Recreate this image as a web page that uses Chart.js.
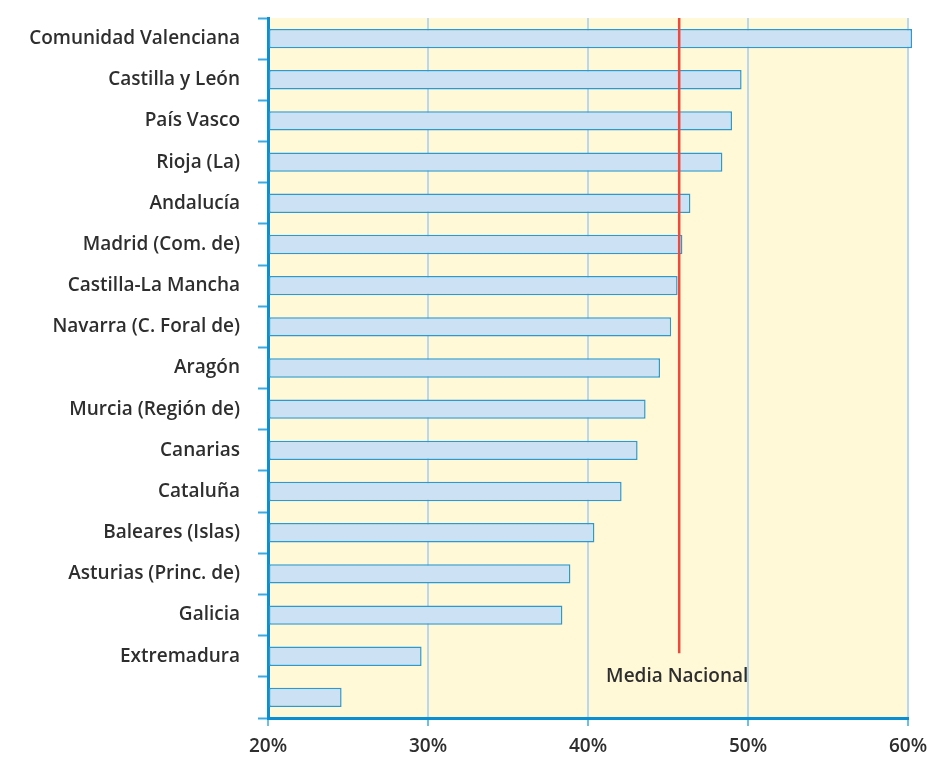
<!DOCTYPE html>
<html>
<head>
<meta charset="utf-8">
<script src="https://cdn.jsdelivr.net/npm/chart.js@4"></script>
<style>
  body { margin: 0; background: #fff; }
</style>
</head>
<body>
<canvas id="grafico" width="928" height="759"></canvas>
<script>
// Comunidades autónomas (la última sin etiqueta)
const comunidades = [
  "Comunidad Valenciana", "Castilla y León", "País Vasco", "Rioja (La)",
  "Andalucía", "Madrid (Com. de)", "Castilla-La Mancha", "Navarra (C. Foral de)",
  "Aragón", "Murcia (Región de)", "Canarias", "Cataluña", "Baleares (Islas)",
  "Asturias (Princ. de)", "Galicia", "Extremadura", ""
];
const porcentajes = [60.25, 49.6, 49.0, 48.4, 46.4, 45.9, 45.6, 45.2, 44.5, 43.6, 43.1, 42.1, 40.4, 38.9, 38.4, 29.6, 24.6];
const mediaNacional = 45.7;
const mediaTexto = "Media Nacional";
const ticksX = [20, 30, 40, 50, 60];

const fuente = "'Open Sans', 'DejaVu Sans', sans-serif";

// Fondo amarillo del área del gráfico + línea de la media
const fondoYMedia = {
  id: "fondoYMedia",
  beforeDraw(chart) {
    const { ctx, chartArea } = chart;
    ctx.save();
    ctx.fillStyle = "#fff9d8";
    ctx.fillRect(chartArea.left, chartArea.top, chartArea.right - chartArea.left, chartArea.bottom - chartArea.top);
    ctx.restore();
  },
  afterDatasetsDraw(chart) {
    const { ctx, chartArea, scales } = chart;
    const x = scales.x.getPixelForValue(mediaNacional);
    const yFin = scales.y.getPixelForValue(15) - 3;
    ctx.save();
    ctx.strokeStyle = "#f0483a";
    ctx.lineWidth = 2.5;
    ctx.beginPath();
    ctx.moveTo(x, chartArea.top);
    ctx.lineTo(x, yFin);
    ctx.stroke();
    ctx.fillStyle = "#2e2e2e";
    ctx.font = "600 19px " + fuente;
    ctx.textAlign = "center";
    ctx.textBaseline = "middle";
    const yTexto = (scales.y.getPixelForValue(15) + scales.y.getPixelForValue(16)) / 2;
    ctx.fillText(mediaTexto, x - 2, yTexto);
    ctx.restore();
  }
};

new Chart(document.getElementById("grafico"), {
  type: "bar",
  data: {
    labels: comunidades,
    datasets: [{
      data: porcentajes,
      base: 20,
      backgroundColor: "#cce1f4",
      borderColor: "#2b9ad3",
      borderWidth: 1.5,
      borderSkipped: false,
      barPercentage: 0.47,
      categoryPercentage: 1.0,
      clip: false
    }]
  },
  options: {
    indexAxis: "y",
    responsive: false,
    animation: false,
    layout: { padding: { top: 18, right: 20, left: 0, bottom: 0 } },
    plugins: {
      legend: { display: false },
      tooltip: { enabled: false }
    },
    scales: {
      x: {
        min: 20,
        max: 60,
        afterBuildTicks(scale) {
          scale.ticks = ticksX.map(v => ({ value: v }));
        },
        afterFit(scale) {
          scale.height = 41;
          scale.paddingLeft = 0;
          scale.paddingRight = 0;
        },
        border: { color: "#0a8fd3", width: 3 },
        grid: {
          color: "#b9d7ee",
          lineWidth: 2,
          tickColor: "#3aaae0",
          tickLength: 8,
          tickWidth: 1.5
        },
        ticks: {
          callback: v => v + "%",
          color: "#2e2e2e",
          font: { family: fuente, size: 19, weight: "600" },
          padding: 9,
          maxRotation: 0
        }
      },
      y: {
        afterFit(scale) {
          scale.width = 268;
          scale.paddingTop = 0;
          scale.paddingBottom = 0;
        },
        border: { color: "#0a8fd3", width: 3 },
        grid: {
          offset: true,
          drawOnChartArea: false,
          tickColor: "#3aaae0",
          tickLength: 10,
          tickWidth: 2
        },
        ticks: {
          color: "#2e2e2e",
          font: { family: fuente, size: 19, weight: "600" },
          padding: 18
        }
      }
    }
  },
  plugins: [fondoYMedia]
});
</script>
</body>
</html>
